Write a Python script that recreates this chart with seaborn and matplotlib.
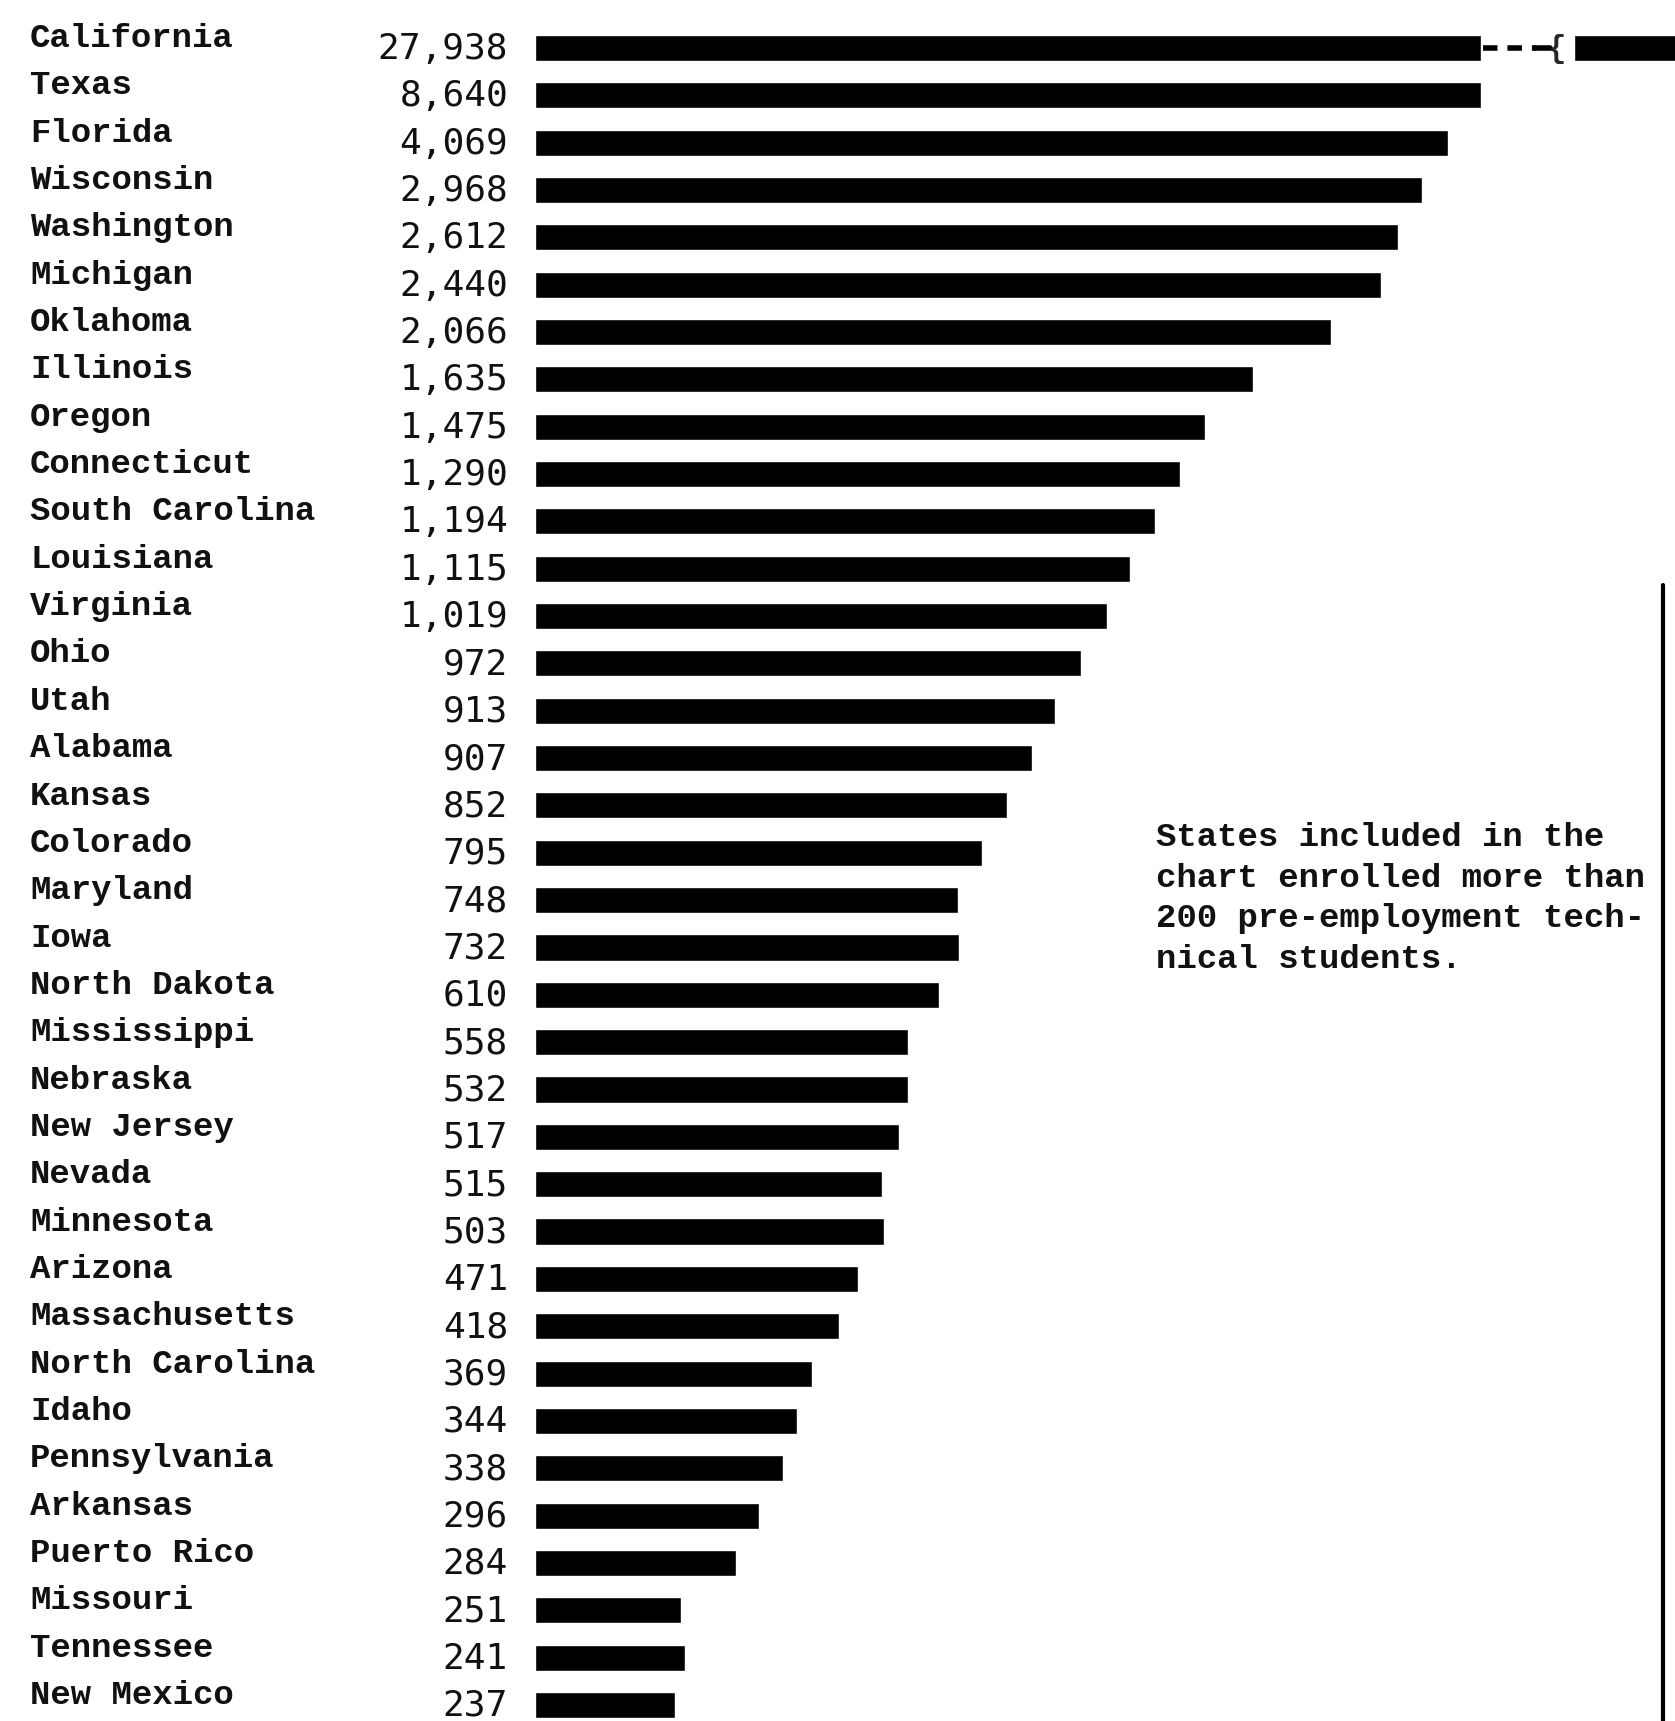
import numpy as np
import pandas as pd
import matplotlib
matplotlib.use("Agg")
import matplotlib.pyplot as plt
import matplotlib.transforms as mtransforms
from matplotlib.lines import Line2D
from matplotlib.patches import Rectangle
import seaborn as sns

# ----------------------------- Data -----------------------------

states = [
    "California", "Texas", "Florida", "Wisconsin", "Washington", "Michigan",
    "Oklahoma", "Illinois", "Oregon", "Connecticut", "South Carolina",
    "Louisiana", "Virginia", "Ohio", "Utah", "Alabama", "Kansas", "Colorado",
    "Maryland", "Iowa", "North Dakota", "Mississippi", "Nebraska",
    "New Jersey", "Nevada", "Minnesota", "Arizona", "Massachusetts",
    "North Carolina", "Idaho", "Pennsylvania", "Arkansas", "Puerto Rico",
    "Missouri", "Tennessee", "New Mexico",
]
enrolled = [
    27938, 8640, 4069, 2968, 2612, 2440, 2066, 1635, 1475, 1290, 1194, 1115,
    1019, 972, 913, 907, 852, 795, 748, 732, 610, 558, 532, 517, 515, 503,
    471, 418, 369, 344, 338, 296, 284, 251, 241, 237,
]
# drawn bar lengths (not proportional to enrolment;
# California runs off the page with a break)
bar_length = [
    1100, 862, 832, 808, 786, 771, 725, 654, 610, 588, 565, 542, 521, 497,
    474, 453, 430, 407, 385, 386, 368, 340, 340, 332, 316, 318, 294, 277,
    252, 239, 226, 204, 183, 133, 137, 128,
]
note = ("States included in the\n"
        "chart enrolled more than\n"
        "200 pre-employment tech-\n"
        "nical students.")

df = pd.DataFrame({"state": states, "enrolled": enrolled, "length": bar_length})

# ----------------------------- Plot -----------------------------

sns.set_style("white")
plt.rcParams['font.family'] = ['Liberation Mono', 'DejaVu Sans Mono']

W, H = 1675, 1721
fig = plt.figure(figsize=(W / 100, H / 100), dpi=100)
x0 = 535
ax = fig.add_axes([x0 / W, 0, (W - x0) / W, 1])

sns.barplot(data=df, x="length", y="state", orient="h", color="black",
            width=0.55, saturation=1, ax=ax)

ax.set_xlim(0, (W - x0) / 1.0976)
ax.set_ylim(35.34, -1.015)
ax.set_xlabel("")
ax.set_ylabel("")
ax.set_xticks([])
ax.set_yticks([])
sns.despine(ax=ax, left=True, bottom=True)

# break in the California bar
ax.add_patch(Rectangle((862, -0.45), 85, 0.9, color="white", zorder=5))
ax.plot([864, 912], [0, 0], color="black", lw=4, dashes=(2.6, 1.8), zorder=6)
ax.plot([912, 925], [0, 0], color="black", lw=4, zorder=6)
ax.text(930, 0.02, "{", fontsize=22, fontweight="bold", ha="center",
        va="center", zorder=6)

# row labels
tr = mtransforms.blended_transform_factory(fig.transFigure, ax.transData)
for i, (s, v) in enumerate(zip(states, enrolled)):
    ax.text(30 / W, i - 0.2, s, transform=tr, ha="left", va="center",
            fontsize=24.5, fontweight="bold", color="#111111")
    ax.text(508 / W, i + 0.02, f"{v:,}", transform=tr, ha="right",
            va="center", fontsize=26, family="DejaVu Sans Mono",
            color="#111111")

fig.text(1156 / W, 1 - 822 / H, note, ha="left", va="top", fontsize=24.5,
         fontweight="bold", linespacing=1.4, color="#111111")

# frame edge on the right
fig.add_artist(Line2D([1663 / W, 1663 / W], [0, 1 - 585 / H],
                      transform=fig.transFigure, color="black", lw=3))

fig.savefig("out.png", dpi=100)
